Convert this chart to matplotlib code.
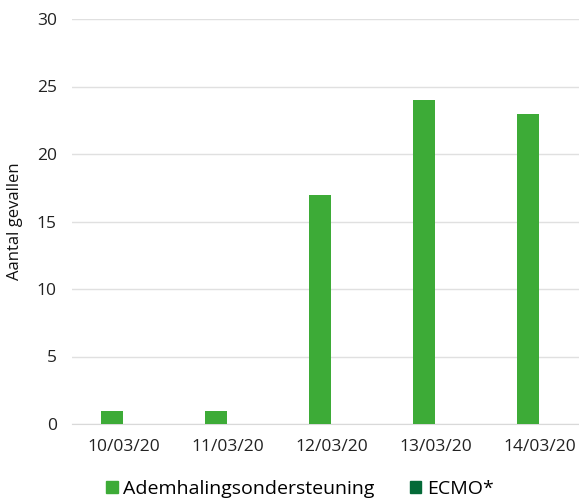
import numpy as np
from matplotlib import pyplot as plt
from matplotlib.patches import Patch

dates = ['10/03/20', '11/03/20', '12/03/20', '13/03/20', '14/03/20']
ademhaling = [1, 1, 17, 24, 23]
ecmo = [0, 0, 0, 0, 0]

light_green = '#3dab37'
dark_green = '#046a38'

plt.rcParams['font.family'] = ['Open Sans', 'DejaVu Sans']

fig = plt.figure(figsize=(5.79, 5.01), dpi=100)
# plot area runs past the right edge of the picture, as in the original
ax = fig.add_axes([72 / 579, 1 - 424 / 501, 520 / 579, 405 / 501])

x = np.arange(len(dates))
w = 0.22
ax.bar(x - w / 2 - 0.005, ademhaling, width=w, color=light_green, zorder=3)
ax.bar(x + w / 2, ecmo, width=w, color=dark_green, zorder=3)

ax.set_xlim(-0.5, len(dates) - 0.5)
ax.set_ylim(0, 30)
ax.set_yticks(range(0, 31, 5))
ax.set_xticks(x)
ax.set_xticklabels(dates)
ax.yaxis.grid(True, color='#e0e0e0', linewidth=1, zorder=0)
for s in ['top', 'right', 'left']:
    ax.spines[s].set_visible(False)
ax.spines['bottom'].set_color('#d9d9d9')
ax.tick_params(axis='both', length=0, labelsize=12.5, colors='#222222')
ax.tick_params(axis='x', pad=11)
ax.tick_params(axis='y', pad=11)
ax.set_ylabel('Aantal gevallen', fontsize=12, color='#111111', labelpad=10)

handles = [Patch(color=light_green, label='Ademhalingsondersteuning'),
           Patch(color=dark_green, label='ECMO*')]
fig.legend(handles=handles, loc='center', bbox_to_anchor=(300 / 579, 1 - 489 / 501),
           ncol=2, frameon=False, fontsize=14, handlelength=0.6, handleheight=0.6,
           handletextpad=0.3, columnspacing=1.8)

plt.savefig('out.png', dpi=100)
